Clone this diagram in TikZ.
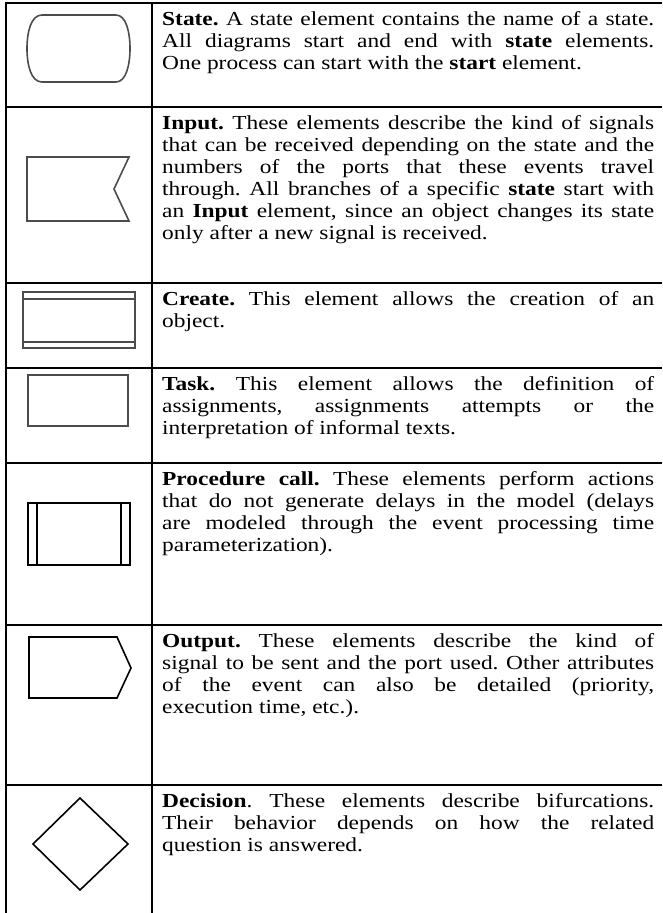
\documentclass[tikz,border=0pt]{standalone}
\usepackage{fontspec}
\setmainfont{Liberation Serif}
\usepackage{tikz}
\usepackage{graphicx}
\frenchspacing
\tolerance=10000
\hyphenpenalty=10000
\newcommand{\desctext}[1]{\scalebox{1}[0.85]{\parbox[t]{492pt}{\fontsize{23.4}{25.9}\selectfont #1}}}

\begin{document}
\begin{tikzpicture}[x=1pt,y=-1pt]
    \tikzset{rule/.style={line width=2.4pt,black}}
    \tikzset{sym/.style={line width=1.6pt,black}}
    \tikzset{symgray/.style={line width=1.6pt,black!70}}
    \tikzset{desc/.style={anchor=base west,inner sep=0pt}}
    \useasboundingbox (0,0) rectangle (662,913);
    \draw[rule] (5,3) -- (662,3);
    \draw[rule] (6,3) -- (6,913);
    \draw[rule] (152,3) -- (152,913);
    \foreach \yrow in {107,283,368,463,625,785}
        \draw[rule] (6,\yrow) -- (662,\yrow);
    \draw[symgray] (42,15) -- (116,15) .. controls (126,15) and (130,32) .. (130,48.5)
        .. controls (130,65) and (126,82) .. (116,82) -- (42,82)
        .. controls (31,82) and (27,65) .. (27,48.5) .. controls (27,32) and (31,15) .. (42,15) -- cycle;
    \draw[symgray] (27,157) -- (129,157) -- (114,189) -- (129,221) -- (27,221) -- cycle;
    \draw[symgray] (23,292) rectangle (135,348);
    \draw[symgray] (23,299) -- (135,299) (23,342) -- (135,342);
    \draw[symgray] (28,375) rectangle (128,426);
    \draw[sym] (28,503) rectangle (130,565);
    \draw[sym] (37,503) -- (37,565) (121,503) -- (121,565);
    \draw[sym] (29,637) -- (117,637) -- (131,668) -- (117,698) -- (29,698) -- cycle;
    \draw[sym] (80,798) -- (128,844) -- (80,890) -- (33,844) -- cycle;
    \node[desc] (state) at (162,25) {\desctext{\textbf{State.} A state element contains the name of a state.\linebreak
        All diagrams start and end with \textbf{state} elements.\linebreak
        One process can start with the \textbf{start} element.}};
    \node[desc] (input) at (162,129) {\desctext{\textbf{Input.} These elements describe the kind of signals\linebreak
        that can be received depending on the state and the\linebreak
        numbers of the ports that these events travel\linebreak
        through. All branches of a specific \textbf{state} start with\linebreak
        an \textbf{Input} element, since an object changes its state\linebreak
        only after a new signal is received.}};
    \node[desc] (create) at (162,305) {\desctext{\textbf{Create.} This element allows the creation of an\linebreak
        object.}};
    \node[desc] (task) at (162,390) {\desctext{\textbf{Task.} This element allows the definition of\linebreak
        assignments, assignments attempts or the\linebreak
        interpretation of informal texts.}};
    \node[desc] (proc) at (162,485) {\desctext{\textbf{Procedure call.} These elements perform actions\linebreak
        that do not generate delays in the model (delays\linebreak
        are modeled through the event processing time\linebreak
        parameterization).}};
    \node[desc] (output) at (162,647) {\desctext{\textbf{Output.} These elements describe the kind of\linebreak
        signal to be sent and the port used. Other attributes\linebreak
        of the event can also be detailed (priority,\linebreak
        execution time, etc.).}};
    \node[desc] (decision) at (162,807) {\desctext{\textbf{Decision}. These elements describe bifurcations.\linebreak
        Their behavior depends on how the related\linebreak
        question is answered.}};
\end{tikzpicture}
\end{document}
